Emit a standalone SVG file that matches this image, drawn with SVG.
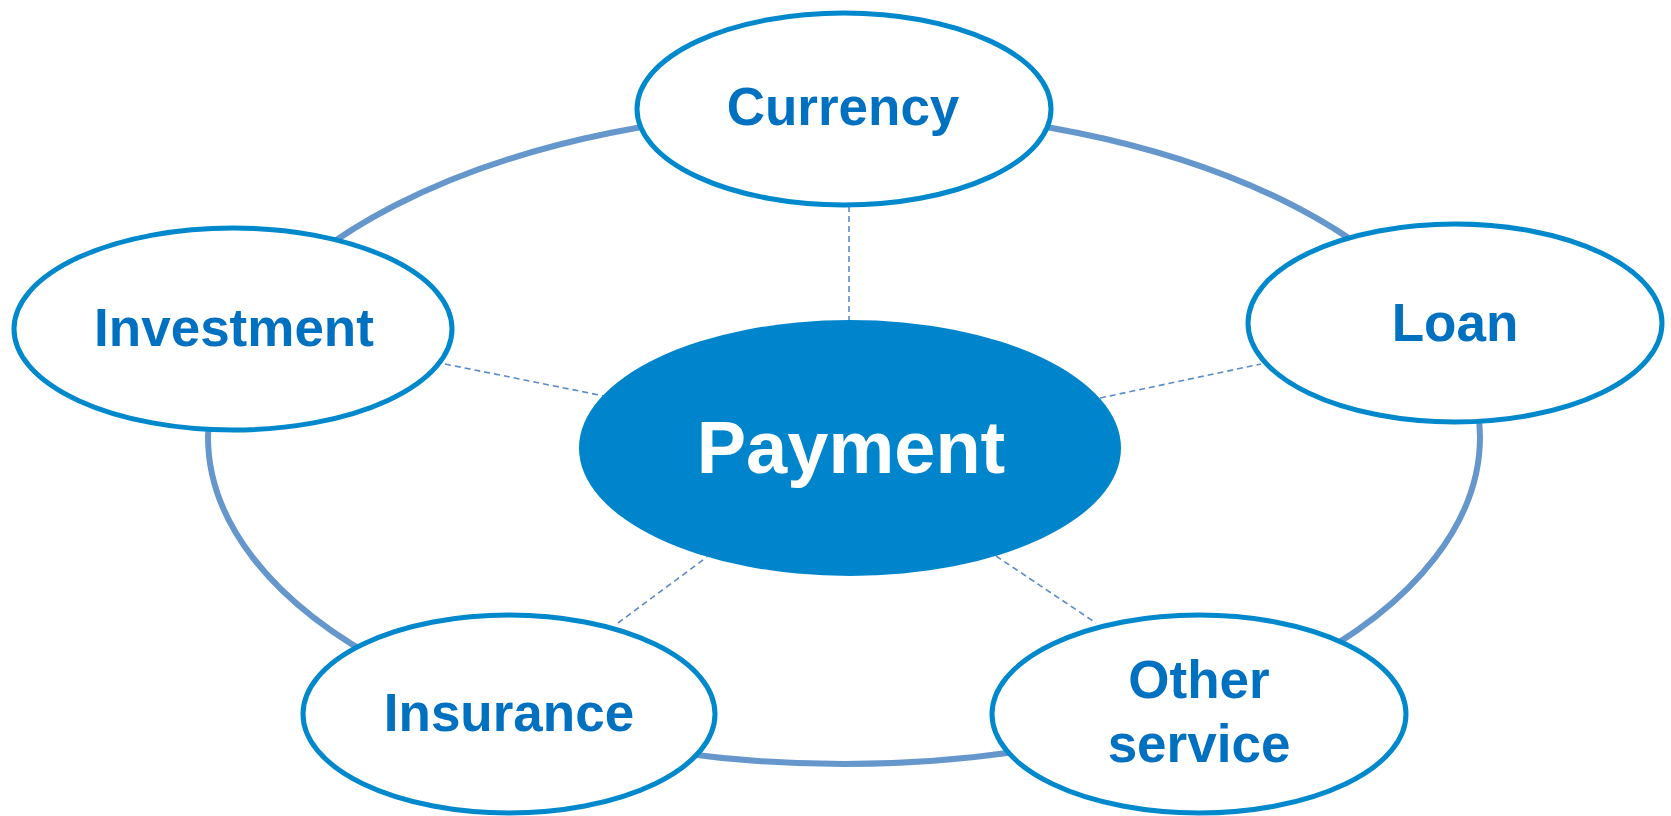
<svg xmlns="http://www.w3.org/2000/svg" width="1671" height="816" viewBox="0 0 1671 816">
<style>
.ring{fill:none;stroke:#6597cc;stroke-width:6}
.dash{fill:none;stroke:#5b8bc9;stroke-width:1.6;stroke-dasharray:6 4}
.node{fill:#fff;stroke:#0088cc;stroke-width:5}
.hub{fill:#0085cc;stroke:none}
.lbl{font-family:"Liberation Sans",Arial,sans-serif;font-weight:bold;font-size:53px;fill:#0070c0;text-anchor:middle}
.hlbl{font-family:"Liberation Sans",Arial,sans-serif;font-weight:bold;font-size:74px;fill:#fff;text-anchor:middle}
</style>
<rect width="1671" height="816" fill="#fff"/>
<g id="connectors">
<ellipse class="ring" cx="844" cy="437" rx="636" ry="327"/>
<path class="dash" d="M849 206 L849 320"/>
<path class="dash" d="M445 364 L604 396"/>
<path class="dash" d="M1100 398 L1261 364"/>
<path class="dash" d="M618 623 L707 557"/>
<path class="dash" d="M996 556 L1096 623"/>
</g>
<g id="node-currency">
<ellipse class="node" cx="844" cy="109" rx="207" ry="96"/>
<text class="lbl" x="843" y="125">Currency</text>
</g>
<g id="node-investment">
<ellipse class="node" cx="233" cy="329" rx="219" ry="101"/>
<text class="lbl" x="234" y="346">Investment</text>
</g>
<g id="node-loan">
<ellipse class="node" cx="1455" cy="323" rx="207" ry="99"/>
<text class="lbl" x="1455" y="341">Loan</text>
</g>
<g id="node-payment">
<ellipse class="hub" cx="850" cy="448" rx="271" ry="128"/>
<text class="hlbl" x="851" y="473">Payment</text>
</g>
<g id="node-insurance">
<ellipse class="node" cx="509" cy="714" rx="206" ry="99"/>
<text class="lbl" x="509" y="731">Insurance</text>
</g>
<g id="node-other">
<ellipse class="node" cx="1199" cy="714" rx="207" ry="99"/>
<text class="lbl" x="1199" y="698">Other</text>
<text class="lbl" x="1199" y="762">service</text>
</g>
</svg>
